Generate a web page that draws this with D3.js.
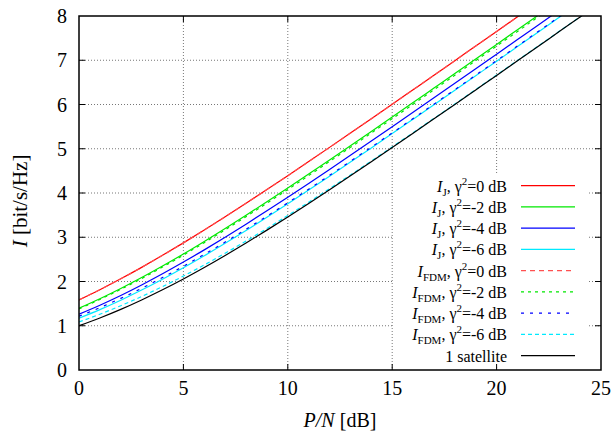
<!DOCTYPE html>
<html>
<head>
<meta charset="utf-8">
<script src="https://cdn.jsdelivr.net/npm/d3@7"></script>
<style>
  body { margin: 0; background: #fff; }
  svg { display: block; }
  text { font-family: "Liberation Serif", "DejaVu Serif", serif; fill: #000; }
</style>
</head>
<body>
<div id="chart"></div>
<script>
// x values (P/N in dB)
var pn = [0, 1, 2, 3, 4, 5, 6, 7, 8, 9, 10, 11, 12, 13, 14, 15, 16, 17, 18, 19, 20, 21, 22, 23, 24, 25];

// I_J curves, gamma^2 = 0, -2, -4, -6 dB
var ij0 = [1.585, 1.815, 2.060, 2.319, 2.591, 2.873, 3.164, 3.463, 3.768, 4.078, 4.392, 4.710, 5.031, 5.354, 5.679, 6.005, 6.333, 6.661, 6.991, 7.321, 7.651, 7.982, 8.313];
var ij2 = [1.396, 1.610, 1.842, 2.089, 2.350, 2.622, 2.906, 3.198, 3.497, 3.803, 4.114, 4.429, 4.747, 5.068, 5.391, 5.716, 6.043, 6.371, 6.699, 7.028, 7.358, 7.689, 8.020];
var ij4 = [1.262, 1.465, 1.685, 1.922, 2.174, 2.439, 2.715, 3.001, 3.296, 3.598, 3.905, 4.217, 4.533, 4.853, 5.175, 5.499, 5.824, 6.151, 6.479, 6.808, 7.138, 7.468, 7.798, 8.129];
var ij6 = [1.171, 1.365, 1.577, 1.806, 2.051, 2.309, 2.580, 2.862, 3.153, 3.451, 3.756, 4.066, 4.381, 4.699, 5.019, 5.342, 5.667, 5.993, 6.321, 6.650, 6.979, 7.309, 7.639, 7.970, 8.301];

// I_FDM curves
var fdm0 = [1.585, 1.815, 2.060, 2.319, 2.591, 2.873, 3.164, 3.463, 3.768, 4.078, 4.392, 4.710, 5.031, 5.354, 5.679, 6.005, 6.333, 6.661, 6.991, 7.321, 7.651, 7.982, 8.313];
var fdm2 = [1.381, 1.594, 1.823, 2.067, 2.326, 2.596, 2.878, 3.168, 3.466, 3.770, 4.080, 4.394, 4.712, 5.032, 5.355, 5.680, 6.006, 6.333, 6.662, 6.991, 7.321, 7.651, 7.982, 8.313];
var fdm4 = [1.215, 1.409, 1.619, 1.846, 2.089, 2.344, 2.612, 2.891, 3.180, 3.476, 3.778, 4.086, 4.399, 4.716, 5.036, 5.358, 5.682, 6.008, 6.335, 6.663, 6.992, 7.322, 7.652, 7.982, 8.313];
var fdm6 = [1.086, 1.261, 1.453, 1.661, 1.885, 2.123, 2.375, 2.639, 2.914, 3.199, 3.492, 3.792, 4.098, 4.408, 4.723, 5.042, 5.363, 5.686, 6.011, 6.338, 6.665, 6.994, 7.323, 7.653, 7.983, 8.313];

// single satellite
var single = [1.000, 1.176, 1.370, 1.583, 1.812, 2.057, 2.316, 2.588, 2.870, 3.161, 3.459, 3.764, 4.075, 4.389, 4.707, 5.028, 5.351, 5.676, 6.002, 6.330, 6.658, 6.987, 7.317, 7.648, 7.978, 8.309];

// axis ticks
var xTicks = [0, 5, 10, 15, 20, 25];
var yTicks = [0, 1, 2, 3, 4, 5, 6, 7, 8];

// legend text pieces
var keySub = ["J", "J", "J", "J", "FDM", "FDM", "FDM", "FDM"];
var keyGamma = ["0", "-2", "-4", "-6", "0", "-2", "-4", "-6"];

var series = [
  { values: ij0, color: "#ff0000", dash: null },
  { values: ij2, color: "#00e800", dash: null },
  { values: ij4, color: "#0000ff", dash: null },
  { values: ij6, color: "#00eaff", dash: null },
  { values: fdm0, color: "#ff5050", dash: "5,4" },
  { values: fdm2, color: "#00e800", dash: "3,4" },
  { values: fdm4, color: "#0000ff", dash: "3,6" },
  { values: fdm6, color: "#00eaff", dash: "4,3" },
  { values: single, color: "#000000", dash: null }
];

var W = 615, H = 436;
var margin = { top: 16, right: 14, bottom: 66, left: 79 };
var width = W - margin.left - margin.right,
    height = H - margin.top - margin.bottom;

var svg = d3.select("#chart").append("svg")
  .attr("width", W)
  .attr("height", H)
  .append("g")
  .attr("transform", "translate(" + margin.left + "," + margin.top + ")");

var x = d3.scaleLinear().domain([0, 25]).range([0, width]);
var y = d3.scaleLinear().domain([0, 8]).range([height, 0]);

svg.append("clipPath")
  .attr("id", "clip")
  .append("rect")
  .attr("width", width)
  .attr("height", height);

// grid
svg.selectAll(".gx")
  .data(xTicks.slice(1, -1))
  .enter().append("line")
  .attr("x1", function(d){ return x(d); })
  .attr("x2", function(d){ return x(d); })
  .attr("y1", 0)
  .attr("y2", height)
  .attr("stroke", "#777")
  .attr("stroke-dasharray", "1,2");

svg.selectAll(".gy")
  .data(yTicks.slice(1, -1))
  .enter().append("line")
  .attr("x1", 0)
  .attr("x2", width)
  .attr("y1", function(d){ return y(d); })
  .attr("y2", function(d){ return y(d); })
  .attr("stroke", "#777")
  .attr("stroke-dasharray", "1,2");

// curves
var line = d3.line()
  .x(function(d, i){ return x(pn[i]); })
  .y(function(d){ return y(d); })
  .curve(d3.curveMonotoneX);

svg.append("g")
  .attr("clip-path", "url(#clip)")
  .selectAll("path")
  .data(series)
  .enter().append("path")
  .attr("d", function(d){ return line(d.values); })
  .attr("fill", "none")
  .attr("stroke", function(d){ return d.color; })
  .attr("stroke-width", 1.2)
  .attr("stroke-dasharray", function(d){ return d.dash; });

// key box (opaque)
var key = svg.append("g");
key.append("rect")
  .attr("x", 314)
  .attr("y", 158)
  .attr("width", 195)
  .attr("height", 193)
  .attr("fill", "#fff");

var keyTop = 169.7, rowH = 21.25;
var textX = 428, lineX1 = 442, lineX2 = 496;

series.forEach(function(s, i){
  var ly = keyTop + i * rowH;
  var t = key.append("text")
    .attr("x", textX)
    .attr("y", ly + 6)
    .attr("text-anchor", "end")
    .attr("font-size", 16);
  if(i < 8){
    t.append("tspan").attr("font-style", "italic").text("I");
    t.append("tspan").attr("font-size", 11).attr("dy", 4).text(keySub[i]);
    t.append("tspan").attr("dy", -4).text(", \u03b3");
    t.append("tspan").attr("font-size", 11).attr("dy", -7).text("2");
    t.append("tspan").attr("dy", 7).text("=" + keyGamma[i] + " dB");
  } else {
    t.text("1 satellite");
  }
  key.append("line")
    .attr("x1", lineX1)
    .attr("x2", lineX2)
    .attr("y1", ly)
    .attr("y2", ly)
    .attr("stroke", s.color)
    .attr("stroke-width", 1.2)
    .attr("stroke-dasharray", s.dash);
});

// tick marks on all four sides
var tl = 6;
xTicks.slice(1, -1).forEach(function(d){
  svg.append("line").attr("x1", x(d)).attr("x2", x(d)).attr("y1", height).attr("y2", height - tl).attr("stroke", "#000");
  svg.append("line").attr("x1", x(d)).attr("x2", x(d)).attr("y1", 0).attr("y2", tl).attr("stroke", "#000");
});
yTicks.slice(1, -1).forEach(function(d){
  svg.append("line").attr("x1", 0).attr("x2", tl).attr("y1", y(d)).attr("y2", y(d)).attr("stroke", "#000");
  svg.append("line").attr("x1", width).attr("x2", width - tl).attr("y1", y(d)).attr("y2", y(d)).attr("stroke", "#000");
});

// border
svg.append("rect")
  .attr("width", width)
  .attr("height", height)
  .attr("fill", "none")
  .attr("stroke", "#000")
  .attr("stroke-width", 1.5);

// tick labels
svg.selectAll(".xl")
  .data(xTicks)
  .enter().append("text")
  .attr("x", function(d){ return x(d); })
  .attr("y", height + 25)
  .attr("text-anchor", "middle")
  .attr("font-size", 20)
  .text(function(d){ return d; });

svg.selectAll(".yl")
  .data(yTicks)
  .enter().append("text")
  .attr("x", -12)
  .attr("y", function(d){ return y(d) + 7; })
  .attr("text-anchor", "end")
  .attr("font-size", 20)
  .text(function(d){ return d; });

// axis titles
var xt = svg.append("text")
  .attr("x", width / 2)
  .attr("y", height + 57)
  .attr("text-anchor", "middle")
  .attr("font-size", 20);
xt.append("tspan").attr("font-style", "italic").text("P/N");
xt.append("tspan").text(" [dB]");

var yt = svg.append("text")
  .attr("transform", "translate(-52," + (height / 2 + 8) + ") rotate(-90)")
  .attr("text-anchor", "middle")
  .attr("font-size", 21);
yt.append("tspan").attr("font-style", "italic").text("I");
yt.append("tspan").text(" [bit/s/Hz]");
</script>
</body>
</html>
